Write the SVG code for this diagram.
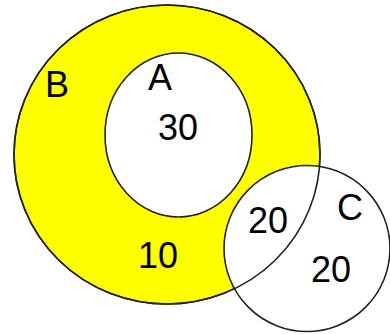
<svg xmlns="http://www.w3.org/2000/svg" width="390" height="334" viewBox="0 0 390 334">
<style>
.o{stroke:#222;stroke-width:1.6;}
.t{font-family:"Liberation Sans",Arial,sans-serif;font-size:36px;fill:#000;text-anchor:middle;}
</style>
<rect width="390" height="334" fill="#fff"/>
<g id="B">
<ellipse cx="167" cy="154.5" rx="153" ry="149.5" fill="#ffff00" class="o"/>
<text class="t" x="57" y="97" font-size="33">B</text>
<text class="t" x="158" y="268">10</text>
</g>
<g id="A">
<ellipse cx="178.5" cy="135" rx="73.5" ry="82" fill="#fff" class="o"/>
<text class="t" x="160" y="90">A</text>
<text class="t" x="178" y="140">30</text>
</g>
<g id="C">
<circle cx="307" cy="248.5" r="83" fill="#fff"/>
<ellipse cx="167" cy="154.5" rx="153" ry="149.5" fill="none" class="o"/>
<circle cx="307" cy="248.5" r="83" fill="none" class="o"/>
<text class="t" x="268" y="233">20</text>
<text class="t" x="350" y="220">C</text>
<text class="t" x="331" y="282">20</text>
</g>
</svg>
